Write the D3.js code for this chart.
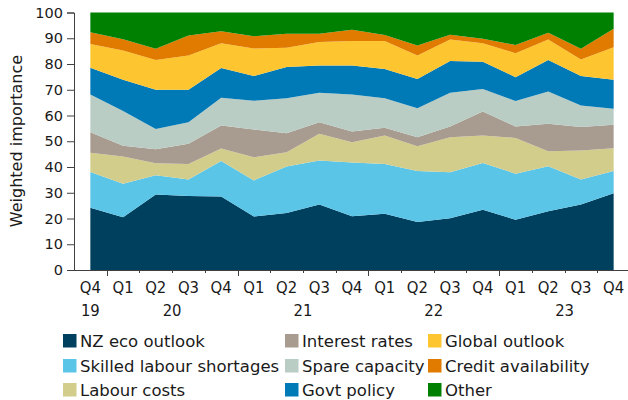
<!DOCTYPE html>
<html>
<head>
<meta charset="utf-8">
<script src="https://cdn.jsdelivr.net/npm/d3@7"></script>
<style>
  body { margin: 0; background: #fff; }
  text { font-family: "DejaVu Sans", Verdana, sans-serif; fill: #1a1a1a; }
  text.cond { font-family: "DejaVu Sans Condensed", "DejaVu Sans", sans-serif; font-stretch: condensed; }
</style>
</head>
<body>
<script>
var width = 628,
  height = 400;

// quarters Q4 2019 .. Q4 2023
var quarters = ["Q4", "Q1", "Q2", "Q3", "Q4", "Q1", "Q2", "Q3", "Q4", "Q1", "Q2", "Q3", "Q4", "Q1", "Q2", "Q3", "Q4"];
var years = ["19", "20", "20", "20", "20", "21", "21", "21", "21", "22", "22", "22", "22", "23", "23", "23", "23"];
var yTicks = [0, 10, 20, 30, 40, 50, 60, 70, 80, 90, 100];

var seriesNames = ["NZ eco outlook", "Skilled labour shortages", "Labour costs", "Interest rates",
  "Spare capacity", "Govt policy", "Global outlook", "Credit availability", "Other"];
var seriesColors = ["#00405f", "#5bc5e8", "#d3cd8c", "#a89b8f", "#b9cdc4", "#0079b7", "#fdc530", "#e07b00", "#008000"];

// weighted importance, each quarter sums to 100
var nzEco      = [24.2, 20.5, 29.3, 28.7, 28.5, 20.8, 22.1, 25.4, 20.9, 21.8, 18.6, 20.1, 23.4, 19.5, 22.8, 25.4, 29.8];
var skilled    = [13.9, 13.0, 7.5, 6.4, 13.8, 14.0, 18.1, 17.1, 20.8, 19.4, 19.8, 17.9, 18.2, 17.9, 17.5, 9.7, 8.6];
var labourCost = [7.4, 10.6, 4.7, 6.1, 4.9, 9.0, 5.5, 10.4, 7.9, 11.0, 9.7, 13.6, 10.6, 13.9, 5.8, 11.3, 8.9];
var interest   = [8.0, 4.2, 5.4, 7.8, 8.9, 10.8, 7.4, 4.5, 4.2, 3.0, 3.5, 4.1, 9.4, 4.4, 10.7, 9.1, 9.1];
var spare      = [14.7, 13.4, 7.9, 8.4, 10.8, 11.1, 13.6, 11.4, 14.4, 11.5, 11.2, 13.1, 8.7, 9.9, 12.5, 8.4, 6.2];
var govt       = [10.3, 12.2, 15.2, 12.6, 11.5, 9.6, 12.1, 10.6, 11.2, 11.4, 11.4, 12.4, 10.6, 9.3, 12.3, 11.4, 11.3];
var globalOut  = [9.3, 11.3, 11.6, 13.3, 9.7, 10.7, 7.5, 9.1, 9.5, 10.8, 9.1, 8.3, 7.2, 9.3, 7.9, 6.4, 12.6];
var credit     = [4.5, 4.4, 4.3, 7.8, 4.6, 4.8, 5.4, 3.2, 4.4, 2.4, 3.9, 1.9, 1.7, 3.2, 2.6, 4.2, 7.2];
var other      = [7.7, 10.4, 14.1, 8.9, 7.3, 9.2, 8.3, 8.3, 6.7, 8.7, 12.8, 8.6, 10.2, 12.6, 7.9, 14.1, 6.3];

var allSeries = [nzEco, skilled, labourCost, interest, spare, govt, globalOut, credit, other];

var table = quarters.map(function (q, i) {
  var row = { i: i };
  seriesNames.forEach(function (n, k) { row[n] = allSeries[k][i]; });
  return row;
});

var svg = d3.select("body").append("svg")
  .attr("width", width)
  .attr("height", height);

var x = d3.scaleBand()
  .domain(d3.range(quarters.length))
  .range([74, 630])
  .paddingInner(0);

var bw = x.bandwidth();
var cx = function (i) { return x(i) + bw / 2; };

var y = d3.scaleLinear()
  .domain([0, 100])
  .range([270, 12.5]);

var stack = d3.stack().keys(seriesNames);
var layers = stack(table);

var area = d3.area()
  .x(function (d) { return cx(d.data.i); })
  .y0(function (d) { return y(d[0]); })
  .y1(function (d) { return y(d[1]); });

svg.append("g").selectAll("path")
  .data(layers)
  .enter()
  .append("path")
  .attr("d", area)
  .attr("fill", function (d, k) { return seriesColors[k]; });

// y axis
var yAxis = svg.append("g")
  .attr("transform", "translate(74,0)")
  .call(d3.axisLeft(y).tickValues(yTicks).tickSize(7).tickPadding(4));
yAxis.select(".domain").attr("stroke", "#404040");
yAxis.selectAll(".tick line").attr("stroke", "#404040");
yAxis.selectAll(".tick text")
  .style("font-size", "14.5px")
  .attr("fill", "#1a1a1a");

svg.append("text")
  .attr("transform", "translate(22,141) rotate(-90)")
  .attr("text-anchor", "middle")
  .style("font-size", "16px")
  .text("Weighted importance");

// x axis: ticks on band boundaries, longer at year starts
var xg = svg.append("g");
xg.append("line")
  .attr("x1", 74).attr("x2", 628)
  .attr("y1", 270.5).attr("y2", 270.5)
  .attr("stroke", "#404040");

xg.selectAll("line.tk")
  .data(d3.range(quarters.length))
  .enter()
  .append("line")
  .attr("class", "tk")
  .attr("x1", function (i) { return Math.round(x(i) + bw) + 0.5; })
  .attr("x2", function (i) { return Math.round(x(i) + bw) + 0.5; })
  .attr("y1", 270)
  .attr("y2", function (i) { return quarters[i + 1] === "Q1" ? 276 : 273; })
  .attr("stroke", "#404040");

xg.selectAll("text.q")
  .data(quarters)
  .enter()
  .append("text")
  .attr("class", "q cond")
  .attr("x", function (d, i) { return cx(i); })
  .attr("y", 293)
  .attr("text-anchor", "middle")
  .style("font-size", "16.5px")
  .text(function (d) { return d; });

var yearGroups = d3.groups(d3.range(years.length), function (i) { return years[i]; });
xg.selectAll("text.yr")
  .data(yearGroups)
  .enter()
  .append("text")
  .attr("class", "yr cond")
  .attr("x", function (g) { return d3.mean(g[1], cx); })
  .attr("y", 316)
  .attr("text-anchor", "middle")
  .style("font-size", "16.5px")
  .text(function (g) { return g[0]; });

// legend, three columns filled top to bottom
var colX = [63, 285, 428];
var rowY = [334, 359, 383];
var leg = svg.append("g").selectAll("g")
  .data(seriesNames)
  .enter()
  .append("g")
  .attr("transform", function (d, k) {
    return "translate(" + colX[Math.floor(k / 3)] + "," + rowY[k % 3] + ")";
  });

leg.append("rect")
  .attr("width", 13.5)
  .attr("height", 13.5)
  .attr("fill", function (d, k) { return seriesColors[k]; });

leg.append("text")
  .attr("x", 17)
  .attr("y", 12.8)
  .style("font-size", "16.5px")
  .text(function (d) { return d; });
</script>
</body>
</html>
